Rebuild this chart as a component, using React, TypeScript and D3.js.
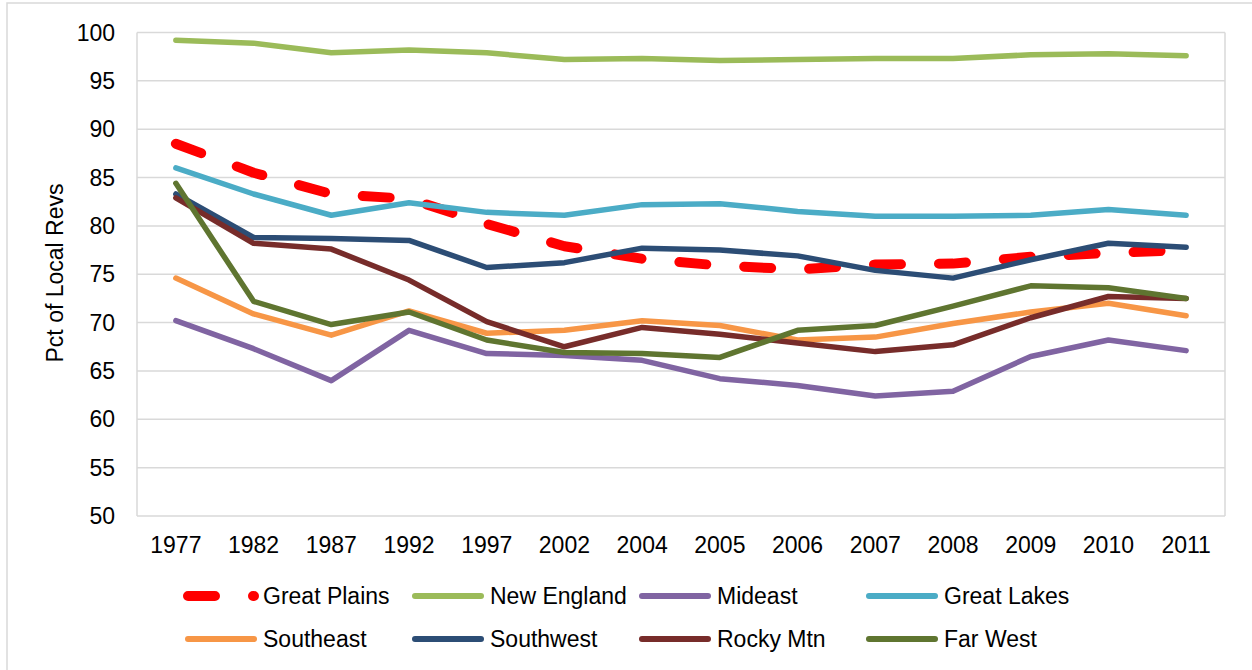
import React from "react";
import * as d3 from "d3";

const years = ["1977", "1982", "1987", "1992", "1997", "2002", "2004", "2005", "2006", "2007", "2008", "2009", "2010", "2011"];
const yTicks = [50, 55, 60, 65, 70, 75, 80, 85, 90, 95, 100];

const greatPlains = [88.5, 85.5, 83.3, 82.8, 80.2, 77.9, 76.6, 75.9, 75.5, 76.0, 76.1, 76.8, 77.2, 77.5];
const newEngland = [99.2, 98.9, 97.9, 98.2, 97.9, 97.2, 97.3, 97.1, 97.2, 97.3, 97.3, 97.7, 97.8, 97.6];
const mideast = [70.2, 67.3, 64.0, 69.2, 66.8, 66.6, 66.1, 64.2, 63.5, 62.4, 62.9, 66.5, 68.2, 67.1];
const greatLakes = [86.0, 83.3, 81.1, 82.4, 81.4, 81.1, 82.2, 82.3, 81.5, 81.0, 81.0, 81.1, 81.7, 81.1];
const southeast = [74.6, 70.9, 68.7, 71.2, 68.9, 69.2, 70.2, 69.7, 68.2, 68.5, 69.9, 71.1, 72.0, 70.7];
const southwest = [83.3, 78.8, 78.7, 78.5, 75.7, 76.2, 77.7, 77.5, 76.9, 75.4, 74.6, 76.5, 78.2, 77.8];
const rockyMtn = [82.9, 78.2, 77.6, 74.4, 70.1, 67.5, 69.5, 68.8, 67.9, 67.0, 67.7, 70.5, 72.7, 72.5];
const farWest = [84.4, 72.2, 69.8, 71.1, 68.2, 66.9, 66.8, 66.4, 69.2, 69.7, 71.7, 73.8, 73.6, 72.5];

const seriesNames = ["Great Plains", "New England", "Mideast", "Great Lakes", "Southeast", "Southwest", "Rocky Mtn", "Far West"];
const seriesValues = [greatPlains, newEngland, mideast, greatLakes, southeast, southwest, rockyMtn, farWest];
const seriesColors = ["#FF0000", "#9BBB59", "#8064A2", "#4BACC6", "#F79646", "#2C4D75", "#772C2A", "#5F7530"];

const FONT = "'Liberation Sans', Arial, sans-serif";
const FS = 23;

export default function App() {
  const W = 1252, H = 670;
  const left = 137, right = 1225, top = 32.5, bottom = 516;
  const x = d3.scaleBand<string>().domain(years).range([left, right]);
  const bw = x.bandwidth();
  const cx = (yr: string) => (x(yr) as number) + bw / 2;
  const y = d3.scaleLinear().domain([50, 100]).range([bottom, top]);

  const line = d3.line<number>()
    .x((_, i) => cx(years[i]))
    .y((v) => y(v));

  const legendCols = [188, 415, 642, 869];
  const legendRows = [596, 639];

  return (
    <svg width={W} height={H} style={{ position: "absolute", left: 0, top: 0, background: "#fff" }} fontFamily={FONT}>
      <rect x={7} y={3} width={1300} height={720} fill="#fff" stroke="#d9d9d9" strokeWidth={1.5} />
      {yTicks.map((t) => (
        <line key={t} x1={left} x2={right} y1={y(t)} y2={y(t)} stroke="#d9d9d9" strokeWidth={1.5} />
      ))}
      <line x1={left} x2={left} y1={top} y2={bottom} stroke="#d9d9d9" strokeWidth={1.5} />
      <line x1={right} x2={right} y1={top} y2={bottom} stroke="#d9d9d9" strokeWidth={1.5} />
      {yTicks.map((t) => (
        <text key={t} x={115} y={y(t)} dy="0.35em" textAnchor="end" fontSize={FS} fill="#000">{t}</text>
      ))}
      {years.map((yr) => (
        <text key={yr} x={cx(yr)} y={553} textAnchor="middle" fontSize={FS} fill="#000">{yr}</text>
      ))}
      <text transform={`translate(63,273) rotate(-90)`} textAnchor="middle" fontSize={FS} fill="#000">Pct of Local Revs</text>
      {seriesValues.map((vals, i) => (
        <path
          key={seriesNames[i]}
          d={line(vals) || ""}
          fill="none"
          stroke={seriesColors[i]}
          strokeWidth={i === 0 ? 10 : 5.5}
          strokeDasharray={i === 0 ? "27 38" : undefined}
          strokeLinecap="round"
          strokeLinejoin="round"
        />
      ))}
      {seriesNames.map((name, i) => {
        const col = i % 4, row = Math.floor(i / 4);
        const lx = legendCols[col], ly = legendRows[row];
        return (
          <g key={name}>
            <line x1={lx} x2={lx + 66} y1={ly} y2={ly} stroke={seriesColors[i]}
              strokeWidth={i === 0 ? 10 : 6} strokeLinecap="round"
              strokeDasharray={i === 0 ? "27 38" : undefined} />
            <text x={lx + 75} y={ly} dy="0.35em" fontSize={FS} fill="#000">{name}</text>
          </g>
        );
      })}
    </svg>
  );
}
